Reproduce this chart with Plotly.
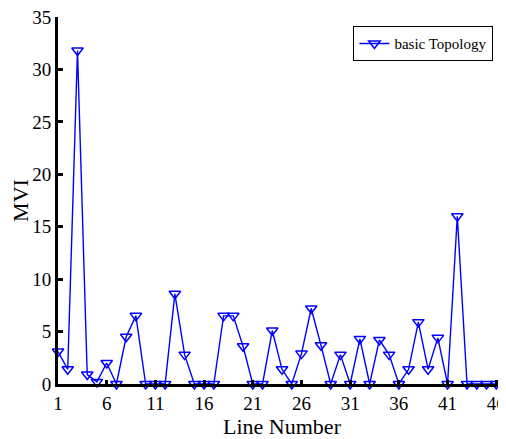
import plotly.graph_objects as go

line_number = list(range(1, 47))
mvi = [3.1, 1.4, 31.8, 0.9, 0.2, 2.0, 0.0, 4.5, 6.5, 0.0,
       0.0, 0.0, 8.6, 2.8, 0.0, 0.0, 0.0, 6.5, 6.5, 3.6,
       0.0, 0.0, 5.1, 1.4, 0.0, 2.9, 7.2, 3.7, 0.0, 2.8,
       0.0, 4.3, 0.0, 4.2, 2.8, 0.0, 1.4, 5.9, 1.4, 4.4,
       0.0, 16.0, 0.0, 0.0, 0.0, 0.0]
x_ticks = [1, 6, 11, 16, 21, 26, 31, 36, 41, 46]
y_ticks = [0, 5, 10, 15, 20, 25, 30, 35]

fig = go.Figure()
fig.add_trace(go.Scatter(
    x=line_number, y=mvi, mode="lines+markers", name="basic Topology",
    line=dict(color="#0000FF", width=1.4),
    marker=dict(symbol="triangle-down-open", size=10, color="#0000FF",
                line=dict(width=1.5, color="#0000FF")),
    cliponaxis=False,
))

font = "Liberation Serif, Times New Roman, serif"
fig.update_layout(
    width=498, height=431,
    margin=dict(l=50, r=0, t=9, b=55, autoexpand=False),
    paper_bgcolor="white", plot_bgcolor="white",
    font=dict(family=font, size=19, color="black"),
    showlegend=True,
    legend=dict(x=0.972, y=0.975, xanchor="right", yanchor="top",
                bordercolor="black", borderwidth=1, bgcolor="white",
                font=dict(family=font, size=15),
                itemwidth=30, tracegroupgap=0),
    xaxis=dict(range=[1, 47], tickvals=x_ticks, showgrid=False, zeroline=False,
               showline=True, linecolor="black", linewidth=3,
               ticks="inside", ticklen=4, tickwidth=3, tickcolor="black",
               automargin=False, ticklabeloverflow="allow",
               title=dict(text="Line Number", font=dict(size=22), standoff=2)),
    yaxis=dict(range=[0, 35], tickvals=y_ticks, showgrid=False, zeroline=False,
               showline=True, linecolor="black", linewidth=3,
               ticks="inside", ticklen=5, tickwidth=3, tickcolor="black",
               automargin=False, ticklabeloverflow="allow",
               title=dict(text="MVI", font=dict(size=22), standoff=10)),
)
fig.write_html("out.html")
